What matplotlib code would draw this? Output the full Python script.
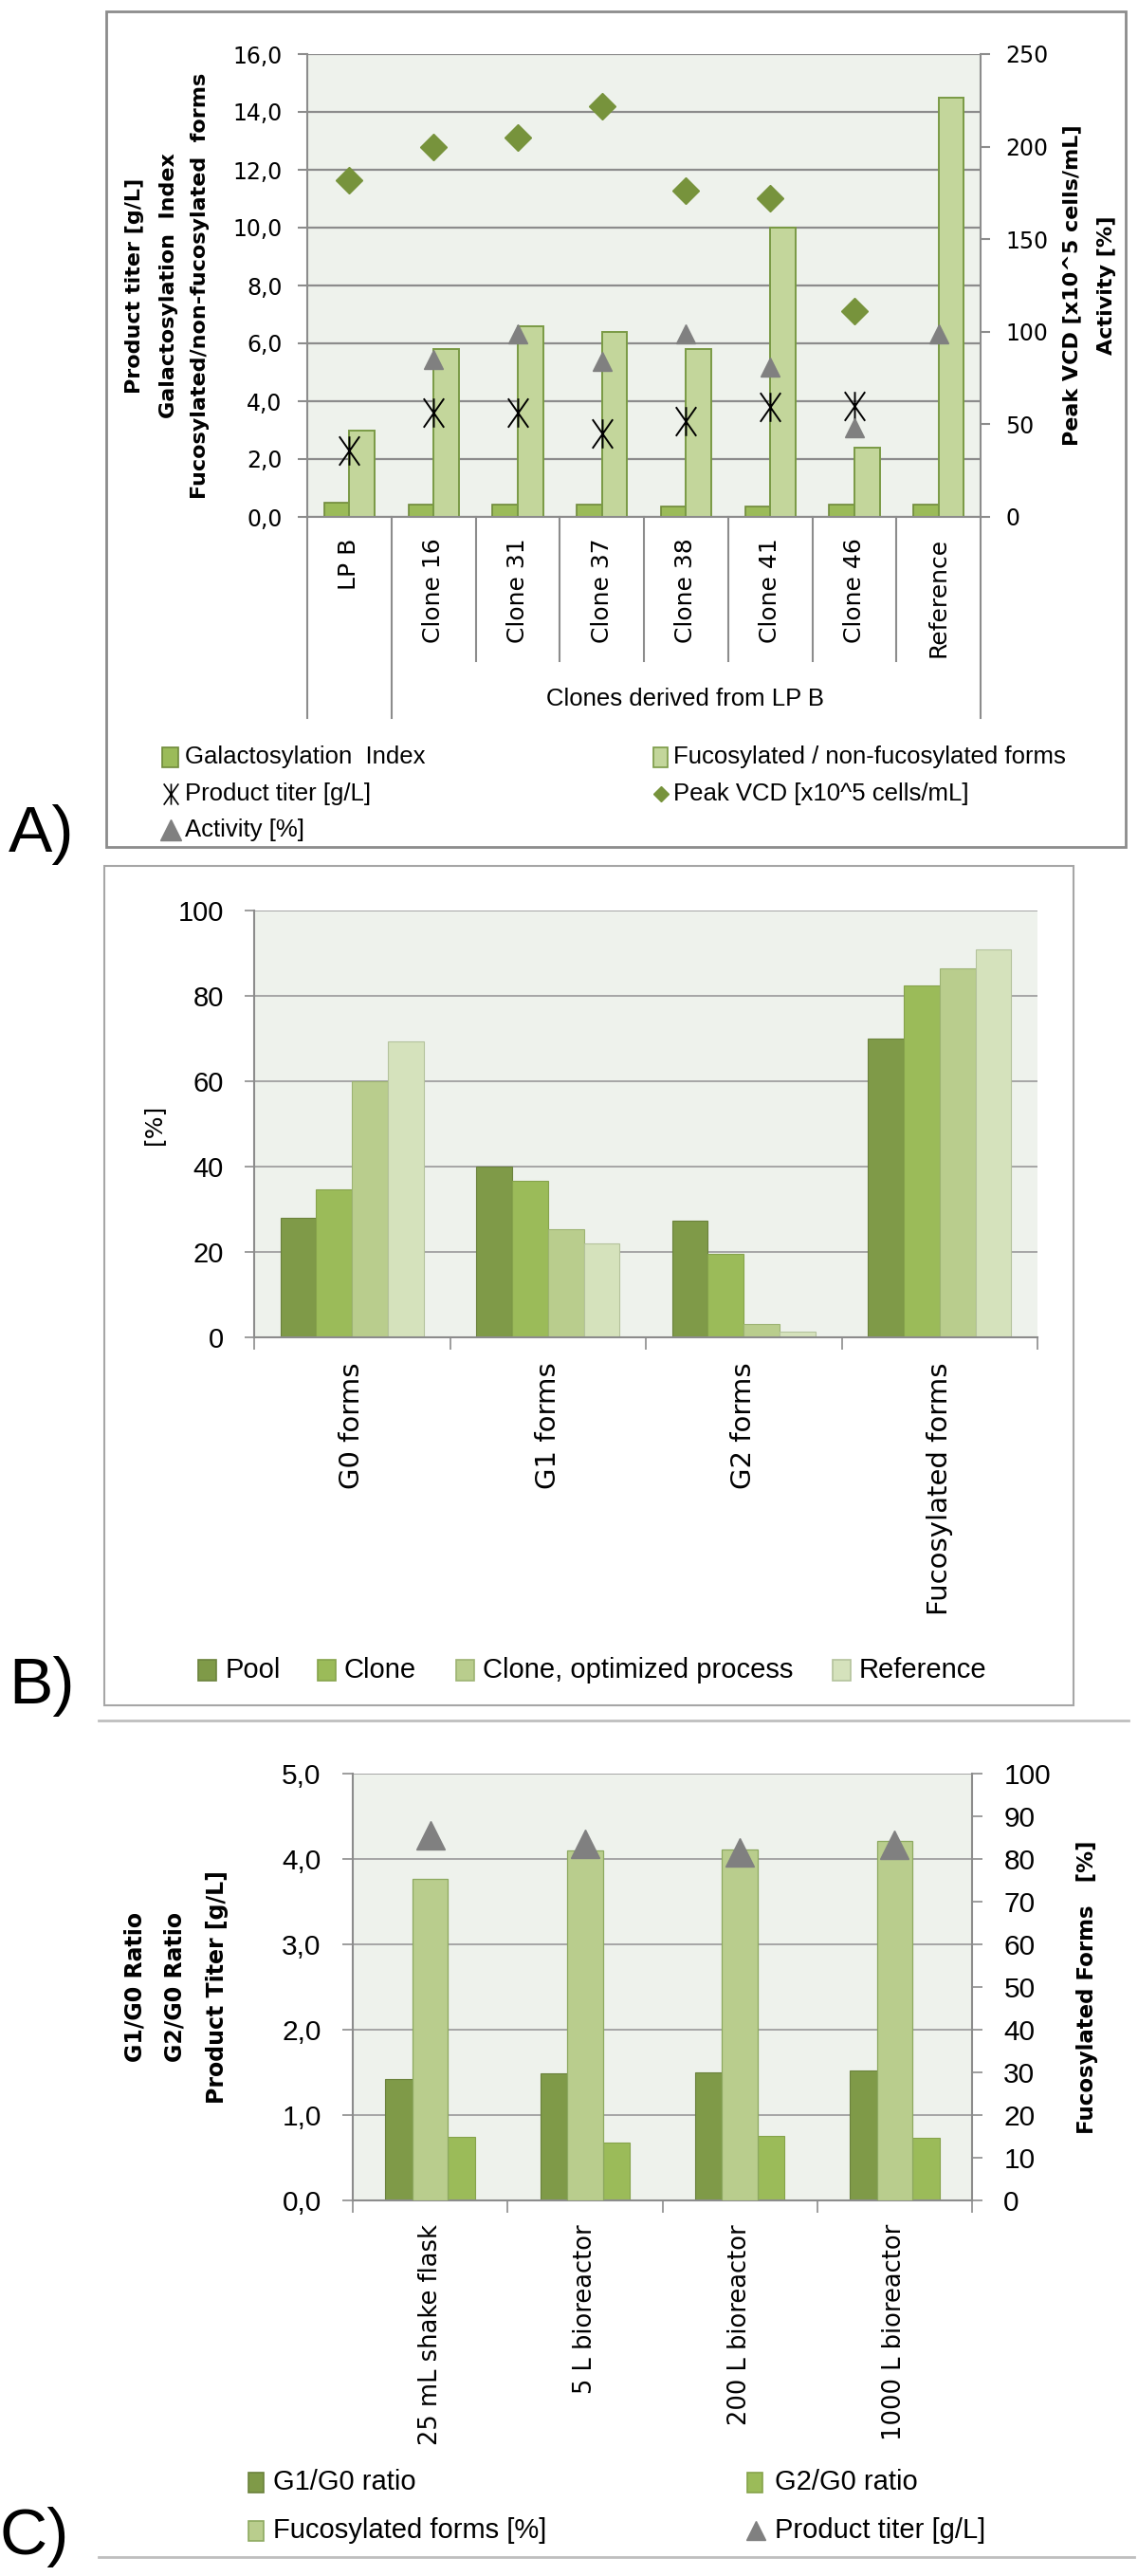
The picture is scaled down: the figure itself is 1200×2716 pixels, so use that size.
import numpy as np
import matplotlib
matplotlib.use("Agg")
import matplotlib.pyplot as plt
from matplotlib import transforms
from matplotlib.lines import Line2D
from matplotlib.patches import Rectangle
from matplotlib.path import Path
from matplotlib.ticker import FixedLocator, FuncFormatter, MultipleLocator

W, H, DPI = 1200, 2716, 100

# A) clones derived from LP B
clones = ["LP B", "Clone 16", "Clone 31", "Clone 37", "Clone 38", "Clone 41", "Clone 46", "Reference"]
galacto_index = [0.5, 0.44, 0.44, 0.44, 0.36, 0.36, 0.44, 0.42]
fuco_ratio = [3.0, 5.8, 6.6, 6.4, 5.8, 10.0, 2.4, 14.5]
titer_a = [2.3, 3.6, 3.6, 2.9, 3.3, 3.8, 3.85, np.nan]
peak_vcd = [182, 200, 205, 222, 176, 172, 111, np.nan]
activity = [np.nan, 85, 99, 84, 99, 81, 48, 99]

# B) glycan forms
glyco_forms = ["G0 forms", "G1 forms", "G2 forms", "Fucosylated forms"]
pool = [28.0, 40.1, 27.4, 70.1]
clone = [34.6, 36.7, 19.6, 82.4]
clone_opt = [60.1, 25.3, 3.1, 86.4]
reference = [69.3, 22.0, 1.4, 91.0]
labels_b = ["Pool", "Clone", "Clone, optimized process", "Reference"]

# C) scale-up
scales = ["25 mL shake flask", "5 L bioreactor", "200 L bioreactor", "1000 L bioreactor"]
g1_g0 = [1.42, 1.49, 1.50, 1.52]
g2_g0 = [0.75, 0.68, 0.76, 0.73]
fuco_c = [75.4, 81.9, 82.3, 84.3]
titer_c = [4.28, 4.18, 4.08, 4.17]

DARK, MID, LIGHT, PALE = "#7F9A48", "#9BBB59", "#B9CD8D", "#D5E2BC"
BG = "#EEF2EC"
GRID = "#8C8C8C"
SANS = ["Liberation Sans", "DejaVu Sans"]
WIDE = ["DejaVu Sans"]

plt.rcParams["font.family"] = SANS
plt.rcParams["text.color"] = "black"

fig = plt.figure(figsize=(W / DPI, H / DPI), dpi=DPI)


def fx(x):
    return x / W


def fy(y):
    return 1 - y / H


def px_axes(l, t, r, b):
    return fig.add_axes([fx(l), fy(b), (r - l) / W, (b - t) / H])


def hline(x0, x1, y, color="#BFBFBF", lw=2):
    fig.add_artist(Line2D([fx(x0), fx(x1)], [fy(y), fy(y)], transform=fig.transFigure, color=color, lw=lw))


def frame(l, t, r, b, color, lw):
    fig.add_artist(Rectangle((fx(l), fy(b)), (r - l) / W, (b - t) / H, transform=fig.transFigure,
                             fill=False, ec=color, lw=lw))


def swatch(x, y, color, ec, w=17, h=21):
    fig.add_artist(Rectangle((fx(x), fy(y + h / 2)), w / W, h / H, transform=fig.transFigure,
                             fc=color, ec=ec, lw=1.2))


def mark(x, y, **kw):
    fig.add_artist(Line2D([fx(x)], [fy(y)], transform=fig.transFigure, ls="none", **kw))


def label(x, y, s, size, **kw):
    fig.text(fx(x), fy(y), s, fontsize=size, **kw)


comma1 = FuncFormatter(lambda v, p: f"{v:.1f}".replace(".", ","))
star = Path([(-0.7, -1), (0.7, 1), (-0.7, 1), (0.7, -1), (0, -1), (0, 1)],
            [Path.MOVETO, Path.LINETO] * 3)


def base_style(ax, grid_color, grid_lw):
    ax.set_facecolor(BG)
    ax.yaxis.grid(True, color=grid_color, lw=grid_lw)
    ax.set_axisbelow(True)
    for s in ("top", "right"):
        ax.spines[s].set_visible(False)
    for s in ("left", "bottom"):
        ax.spines[s].set_color(GRID)
        ax.spines[s].set_linewidth(1.5)


# ---------------- A ----------------
frame(112, 12, 1187, 893, GRID, 2)
axA = px_axes(324, 57, 1034, 545)
base_style(axA, GRID, 1.6)
x = np.arange(len(clones))
w = 0.3
axA.bar(x - w / 2, galacto_index, w, color=MID, edgecolor="#6F8A3A", lw=1.2, zorder=2)
axA.bar(x + w / 2, fuco_ratio, w, color="#C3D69B", edgecolor="#7A9A45", lw=1.4, zorder=2)
axA.plot(x, titer_a, ls="none", marker=star, ms=22, mfc="none", mec="black", mew=1.4, zorder=4)
axA.set_xlim(-0.5, len(clones) - 0.5)
axA.set_ylim(0, 16)
axA.yaxis.set_major_locator(MultipleLocator(2))
axA.yaxis.set_major_formatter(comma1)
axA.set_xticks(x)
axA.set_xticklabels(clones, rotation=90, family=WIDE, fontsize=18)
axA.tick_params(axis="x", length=0, pad=16)
axA.tick_params(axis="y", length=7, width=1.5, color=GRID, pad=12, labelsize=17)
plt.setp(axA.get_yticklabels(), family=WIDE)

axA2 = axA.twinx()
axA2.set_ylim(0, 250)
axA2.yaxis.set_major_locator(MultipleLocator(50))
axA2.plot(x, peak_vcd, ls="none", marker="D", ms=14.5, color="#77933C", zorder=5)
axA2.plot(x, activity, ls="none", marker="^", ms=15, color="#808080", zorder=5)
for s in ("top", "left", "bottom"):
    axA2.spines[s].set_visible(False)
axA2.spines["right"].set_color(GRID)
axA2.spines["right"].set_linewidth(1.5)
axA2.tick_params(axis="y", length=7, width=1.5, color=GRID, pad=12, labelsize=17)
plt.setp(axA2.get_yticklabels(), family=WIDE)

sep = transforms.blended_transform_factory(axA.transData, fig.transFigure)
for b in np.arange(-0.5, len(clones)):
    yb = 757 if b in (-0.5, 0.5, len(clones) - 0.5) else 697
    fig.add_artist(Line2D([b, b], [fy(545), fy(yb)], transform=sep, color=GRID, lw=1.5))
label(723, 737, "Clones derived from LP B", 18.5, ha="center", va="center")

for xx, s in [(142, "Product titer [g/L]"), (178, "Galactosylation  Index"),
              (211, "Fucosylated/non-fucosylated  forms")]:
    label(xx, 301, s, 16, rotation=90, ha="center", va="center", family=WIDE, weight="bold")
for xx, s in [(1130, "Peak VCD [x10^5 cells/mL]"), (1167, "Activity [%]")]:
    label(xx, 301, s, 16, rotation=90, ha="center", va="center", family=WIDE, weight="bold")

swatch(171, 798, MID, "#6F8A3A")
label(195, 798, "Galactosylation  Index", 18.5, va="center")
swatch(689, 798, "#C3D69B", "#7A9A45", w=15)
label(710, 798, "Fucosylated / non-fucosylated forms", 18.5, va="center")
mark(180, 837, marker=star, ms=16, mfc="none", mec="black", mew=1.2)
label(195, 837, "Product titer [g/L]", 18.5, va="center")
mark(697, 837, marker="D", ms=8, color="#77933C")
label(710, 837, "Peak VCD [x10^5 cells/mL]", 18.5, va="center")
mark(180, 875, marker="^", ms=16, color="#808080")
label(195, 875, "Activity [%]", 18.5, va="center")
label(44, 880, "A)", 50, ha="center", va="center")

# ---------------- B ----------------
frame(110, 913, 1132, 1798, "#A6A6A6", 1.5)
axB = px_axes(268, 960, 1094, 1410)
base_style(axB, "#A0A0A0", 1.3)
xb = np.arange(len(glyco_forms))
bw = 0.183
series_b = [pool, clone, clone_opt, reference]
colors_b = [DARK, MID, LIGHT, PALE]
edges_b = ["#6B823C", "#86A34B", "#9DB373", "#B4C29C"]
for i, vals in enumerate(series_b):
    axB.bar(xb + (i - 1.5) * bw, vals, bw, color=colors_b[i], edgecolor=edges_b[i], lw=0.8, zorder=2)
axB.set_xlim(-0.5, len(glyco_forms) - 0.5)
axB.set_ylim(0, 100)
axB.yaxis.set_major_locator(MultipleLocator(20))
axB.set_xticks(xb)
axB.set_xticklabels(glyco_forms, rotation=90, family=WIDE, fontsize=21)
axB.xaxis.set_minor_locator(FixedLocator(np.arange(-0.5, len(glyco_forms))))
axB.tick_params(axis="x", which="major", length=0, pad=19)
axB.tick_params(axis="x", which="minor", length=9, width=1.2, color=GRID)
axB.tick_params(axis="y", length=7, width=1.2, color=GRID, pad=16, labelsize=21)
label(162, 1185, "[%]", 18, rotation=90, ha="center", va="center", family=WIDE)

legend_b = [(209, 238), (335, 363), (481, 509), (878, 906)]
for (xm, xt), col, ec, s in zip(legend_b, colors_b, edges_b, labels_b):
    swatch(xm, 1761, col, ec, w=19, h=22)
    label(xt, 1761, s, 21, va="center")
label(44, 1778, "B)", 50, ha="center", va="center")
hline(104, 1190, 1814)

# ---------------- C ----------------
axC = px_axes(372, 1870, 1025, 2320)
base_style(axC, "#A0A0A0", 1.3)
xc = np.arange(len(scales))
w_side, w_mid = 0.175, 0.23
off = (w_side + w_mid) / 2
axC.bar(xc - off, g1_g0, w_side, color=DARK, edgecolor="#6B823C", lw=0.8, zorder=2)
axC.bar(xc + off, g2_g0, w_side, color=MID, edgecolor="#86A34B", lw=0.8, zorder=2)
axC.set_xlim(-0.5, len(scales) - 0.5)
axC.set_ylim(0, 5)
axC.yaxis.set_major_locator(MultipleLocator(1))
axC.yaxis.set_major_formatter(comma1)
axC.set_xticks(xc)
axC.set_xticklabels(scales, rotation=90, family=WIDE, fontsize=18.5)
axC.xaxis.set_minor_locator(FixedLocator(np.arange(-0.5, len(scales))))
axC.tick_params(axis="x", which="major", length=0, pad=18)
axC.tick_params(axis="x", which="minor", length=9, width=1.2, color=GRID)
axC.tick_params(axis="y", length=8, width=1.2, color=GRID, pad=16, labelsize=21.5)

axC2 = axC.twinx()
axC2.bar(xc, fuco_c, w_mid, color=LIGHT, edgecolor="#8DA960", lw=0.9, zorder=2)
axC2.plot(xc, titer_c, ls="none", marker="^", ms=22, color="#808080", transform=axC.transData, zorder=5)
axC2.set_ylim(0, 100)
axC2.yaxis.set_major_locator(MultipleLocator(10))
for s in ("top", "left", "bottom"):
    axC2.spines[s].set_visible(False)
axC2.spines["right"].set_color(GRID)
axC2.spines["right"].set_linewidth(1.5)
axC2.tick_params(axis="y", length=8, width=1.2, color=GRID, pad=16, labelsize=21.5)

for xx, s in [(142, "G1/G0 Ratio"), (185, "G2/G0 Ratio"), (229, "Product Titer [g/L]")]:
    label(xx, 2095, s, 17, rotation=90, ha="center", va="center", family=WIDE, weight="bold")
label(1146, 2095, "Fucosylated Forms   [%]", 16.5, rotation=90, ha="center", va="center",
      family=WIDE, weight="bold")

swatch(262, 2617, DARK, "#6B823C", w=16)
label(288, 2617, "G1/G0 ratio", 21, va="center")
swatch(788, 2617, MID, "#86A34B", w=16)
label(817, 2617, "G2/G0 ratio", 21, va="center")
swatch(262, 2668, LIGHT, "#8DA960", w=16)
label(288, 2668, "Fucosylated forms [%]", 21, va="center")
mark(797, 2668, marker="^", ms=15, color="#808080")
label(817, 2668, "Product titer [g/L]", 21, va="center")
label(36, 2675, "C)", 50, ha="center", va="center")
hline(104, 1196, 2696)

fig.savefig("out.png", dpi=DPI)
